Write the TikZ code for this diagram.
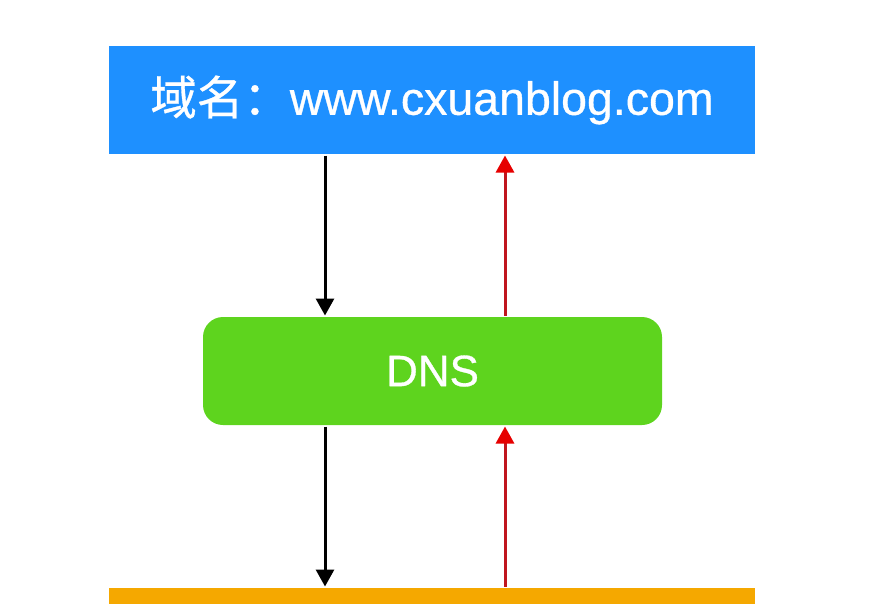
\documentclass[tikz,border=0pt]{standalone}
\usepackage{fontspec}
\setmainfont{Liberation Sans}[UprightFeatures={FakeBold=0.7}]
\newfontfamily\cjk{Noto Sans CJK SC}[UprightFeatures={FakeBold=0.7}]
\usepackage{tikz}
\usetikzlibrary{arrows.meta}
\definecolor{node_blue}{RGB}{30,144,255}
\definecolor{node_green}{RGB}{94,212,30}
\definecolor{node_orange}{RGB}{245,168,0}
\definecolor{edge_red}{RGB}{192,22,30}
\definecolor{tip_red}{RGB}{230,0,0}

\begin{document}
\begin{tikzpicture}[x=1pt,y=-1pt,line width=3pt,>={Triangle[width=18pt,length=17pt]}]
    \tikzstyle{box}=[draw=none, rectangle, minimum width=646pt, minimum height=108pt, inner sep=0pt, text=white, font=\fontsize{44}{50}\selectfont]
    \tikzstyle{dom}=[style=box, fill=node_blue, font=\fontsize{46.5}{52}\selectfont]
    \tikzstyle{dn}=[style=box, fill=node_green, minimum width=459pt, rounded corners=20pt]
    \tikzstyle{srv}=[style=box, fill=node_orange]
    \tikzstyle{ask}=[->, black]
    \tikzstyle{ans}=[-{Triangle[width=18pt,length=17pt,color=tip_red]}, edge_red]

    \useasboundingbox (0,0) rectangle (874,603);
    \clip (0,0) rectangle (874,603);

    \node[dom] (domain) at (432,100)   {{\cjk 域名：}www.cxuanblog.com};
    \node[dn]  (dns)    at (432.5,371) {DNS};
    \node[srv] (server) at (432,642)   {};

    \path
     ([xshift=-107pt]domain.south) edge[ask] ([xshift=-107.5pt]dns.north)
     ([xshift=-107.5pt]dns.south)  edge[ask] ([xshift=-107pt]server.north)
     ([xshift=72.5pt]dns.north)    edge[ans] ([xshift=73pt]domain.south)
     ([xshift=73pt]server.north)   edge[ans] ([xshift=72.5pt]dns.south)
     ;
\end{tikzpicture}
\end{document}
